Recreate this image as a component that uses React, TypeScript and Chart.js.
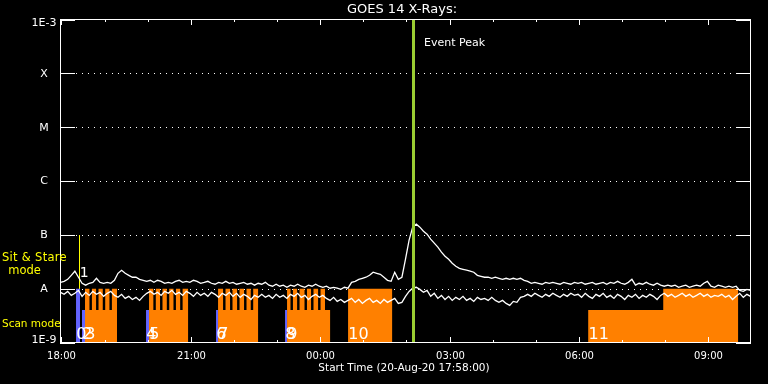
import React, { useEffect, useRef } from "react";
import { Chart, registerables } from "chart.js";

Chart.register(...registerables);

// ---------- text ----------
const TITLE = "GOES 14 X-Rays:";
const X_TITLE = "Start Time (20-Aug-20 17:58:00)";
const EVENT_LABEL = "Event Peak";
const SIT_STARE_LABEL = ["Sit & Stare", "mode"];
const SCAN_LABEL = "Scan mode";

// ---------- axes (x in minutes after 17:58) ----------
const X_RANGE = [0, 960];
const hourTickMinutes = [2, 62, 122, 182, 242, 302, 362, 422, 482, 542, 602, 662, 722, 782, 842, 902];
const majorTickLabels = ["18:00", "", "", "21:00", "", "", "00:00", "", "", "03:00", "", "", "06:00", "", "", "09:00"];
const fluxTicks = [1e-9, 1e-8, 1e-7, 1e-6, 1e-5, 1e-4, 1e-3];
const fluxTickLabels = ["1E-9", "A", "B", "C", "M", "X", "1E-3"];

// ---------- GOES light curves (nW/m^2), one sample every 5 minutes from 17:58 ----------
const SAMPLE_STEP_MIN = 5;
const longChannel = [
  13.1, 13.7, 14.9, 17.7, 21.1, 16.3, 12.6, 11.6, 12.6, 13.1,
  15.6, 13.1, 12.6, 13.1, 12.6, 14.3, 19.3, 22.0, 19.3, 17.7,
  16.3, 16.3, 14.9, 14.3, 13.7, 14.3, 13.1, 14.3, 13.7, 12.6,
  13.1, 12.6, 13.7, 14.3, 13.1, 13.7, 13.1, 14.3, 13.7, 12.6,
  13.1, 13.7, 12.6, 12.1, 13.1, 12.6, 13.7, 12.6, 13.1, 12.1,
  12.6, 13.1, 12.1, 12.6, 11.6, 12.6, 12.1, 13.1, 11.6, 11.1,
  12.1, 11.1, 11.6, 10.6, 11.6, 11.1, 12.1, 11.1, 10.6, 11.6,
  11.1, 12.1, 11.1, 10.6, 11.1, 10.2, 10.6, 10.2, 9.7, 10.6,
  10.2, 13.1, 13.7, 14.9, 15.6, 16.3, 17.7, 20.2, 19.3, 18.5,
  16.3, 14.3, 13.7, 20.2, 14.9, 16.3, 35.2, 79.6, 139, 158,
  139, 117, 103, 83.2, 70, 59, 47.6, 40.1, 35.2, 29.7,
  26.1, 23.9, 22.9, 22.0, 21.1, 20.2, 17.7, 17.0, 16.3, 16.3,
  15.6, 16.3, 15.6, 14.9, 15.6, 14.9, 15.6, 14.9, 15.6, 14.3,
  13.7, 12.6, 13.1, 12.6, 12.1, 13.1, 12.6, 13.1, 12.6, 12.1,
  13.1, 12.6, 12.1, 13.1, 12.6, 13.1, 12.1, 12.6, 13.1, 12.1,
  12.6, 13.1, 12.1, 13.1, 12.6, 13.7, 12.6, 12.1, 13.1, 14.9,
  11.6, 12.6, 12.1, 13.1, 12.1, 11.6, 12.6, 11.6, 11.1, 11.6,
  11.1, 11.6, 10.6, 11.1, 11.6, 10.6, 11.1, 11.6, 11.1, 12.6,
  13.7, 11.1, 10.6, 11.6, 11.1, 10.6, 11.1, 10.6, 11.1, 9.3,
  8.9, 9.7, 9.3,
];
const shortChannel = [
  8.55, 7.85, 8.9, 7.5, 8.2, 9.3, 7.2, 8.55, 7.5, 8.9,
  7.85, 8.55, 7.2, 8.2, 8.9, 7.5, 6.9, 7.85, 6.6, 7.2,
  6.3, 6.9, 6.06, 7.2, 8.2, 8.9, 7.85, 8.55, 7.5, 8.9,
  8.2, 9.3, 7.85, 8.55, 7.5, 8.9, 8.2, 7.2, 8.55, 7.5,
  8.2, 7.2, 8.55, 7.85, 6.9, 8.2, 7.5, 8.55, 7.2, 8.2,
  6.9, 7.85, 7.2, 6.3, 7.5, 6.9, 7.85, 6.9, 7.5, 6.6,
  7.85, 6.9, 7.5, 6.6, 7.85, 7.2, 8.2, 6.9, 7.5, 6.3,
  7.2, 7.85, 6.9, 7.5, 6.6, 6.06, 6.9, 5.8, 6.3, 5.57,
  6.06, 6.6, 5.57, 6.3, 5.33, 6.06, 6.6, 5.57, 6.06, 5.33,
  6.3, 5.57, 6.06, 6.6, 5.33, 5.57, 7.2, 8.9, 10.2, 10.6,
  9.7, 8.55, 9.3, 7.2, 8.2, 6.6, 7.5, 6.3, 7.2, 6.06,
  6.9, 6.3, 7.2, 6.06, 6.6, 5.8, 6.9, 6.3, 6.6, 6.06,
  6.9, 6.06, 5.57, 6.06, 5.33, 4.9, 5.8, 5.57, 6.9, 7.2,
  7.85, 7.2, 8.2, 7.5, 6.9, 7.85, 7.2, 8.2, 7.5, 6.9,
  7.85, 7.2, 8.2, 7.5, 7.85, 6.9, 8.2, 7.2, 6.6, 7.85,
  7.2, 8.2, 6.9, 7.5, 6.6, 7.85, 7.2, 6.3, 7.5, 6.9,
  7.85, 6.6, 7.5, 6.9, 7.85, 7.2, 6.3, 7.5, 8.2, 7.2,
  7.85, 6.9, 7.5, 8.2, 7.2, 7.85, 6.9, 7.5, 8.2, 7.2,
  7.85, 6.9, 7.5, 7.2, 7.85, 6.9, 7.5, 6.3, 7.2, 8.2,
  6.9, 7.85, 7.2,
];

// ---------- observation timeline: [start min, end min, flux height] ----------
const HIGH = 1e-8;
const LOW = 4e-9;
const FLUX_MIN = 1e-9;
const FLUX_MAX = 1e-3;
const stareSegments: [number, number, number][] = [
  [21.6, 27.1, HIGH],
  [29.9, 34.1, LOW],
  [119.0, 123.2, LOW],
  [216.4, 219.2, LOW],
  [312.4, 315.2, LOW],
];
const scanSegments: [number, number, number][] = [
  [34.1, 40.3, HIGH], [40.3, 43.7, LOW], [43.7, 49.5, HIGH], [49.5, 52.9, LOW], [52.9, 58.8, HIGH],
  [58.8, 62.2, LOW], [62.2, 68.1, HIGH], [68.1, 71.5, LOW], [71.5, 78.6, HIGH],
  [123.2, 129.2, HIGH], [129.2, 132.6, LOW], [132.6, 138.5, HIGH], [138.5, 141.9, LOW], [141.9, 147.9, HIGH],
  [147.9, 151.3, LOW], [151.3, 157.2, HIGH], [157.2, 160.6, LOW], [160.6, 166.5, HIGH], [166.5, 169.9, LOW],
  [169.9, 177.5, HIGH],
  [219.2, 226.2, HIGH], [226.2, 229.6, LOW], [229.6, 235.9, HIGH], [235.9, 239.3, LOW], [239.3, 245.7, HIGH],
  [245.7, 249.1, LOW], [249.1, 255.4, HIGH], [255.4, 258.8, LOW], [258.8, 264.7, HIGH], [264.7, 268.1, LOW],
  [268.1, 274.9, HIGH],
  [315.2, 320.0, HIGH], [320.0, 323.4, LOW], [323.4, 329.2, HIGH], [329.2, 332.6, LOW], [332.6, 339.5, HIGH],
  [339.5, 342.9, LOW], [342.9, 348.6, HIGH], [348.6, 352.0, LOW], [352.0, 358.4, HIGH], [358.4, 361.8, LOW],
  [361.8, 368.0, HIGH], [368.0, 375.1, LOW],
  [400.1, 461.4, HIGH],
  [734.2, 838.6, LOW], [838.6, 943.0, HIGH],
];
const obsLabels: [string, number][] = [
  ["0", 21.6], ["2", 29.9], ["3", 34.1], ["4", 119.0], ["5", 123.2], ["6", 216.4],
  ["7", 219.2], ["8", 312.4], ["9", 315.2], ["10", 400.1], ["11", 734.2],
];
const SIT_STARE_MIN = 26.2;
const SIT_STARE_TOP = 1e-7;
const SIT_STARE_NUM = "1";
const EVENT_PEAK_MIN = 492;

const COLORS = {
  bg: "#000000",
  fg: "#ffffff",
  yellow: "#ffff00",
  scan: "#ff8000",
  stare: "#6464ff",
  peak: "#9acd32",
};
const FONT = "'DejaVu Sans', 'Liberation Sans', sans-serif";

function skyline(segs: [number, number, number][]) {
  const pts: { x: number; y: number }[] = [];
  let prevEnd: number | null = null;
  for (const [s, e, v] of segs) {
    if (prevEnd === null || Math.abs(s - prevEnd) > 1e-6) {
      if (prevEnd !== null) pts.push({ x: prevEnd, y: FLUX_MIN });
      pts.push({ x: s, y: FLUX_MIN });
    }
    pts.push({ x: s, y: v }, { x: e, y: v });
    prevEnd = e;
  }
  if (prevEnd !== null) pts.push({ x: prevEnd, y: FLUX_MIN });
  return pts;
}

const crisp = (v: number) => Math.floor(v) + 0.5;

const framePlugin = {
  id: "goesFrame",
  beforeDraw(chart: any) {
    const ctx = chart.ctx;
    ctx.save();
    ctx.fillStyle = COLORS.bg;
    ctx.fillRect(0, 0, chart.width, chart.height);
    ctx.restore();
  },
  beforeDatasetsDraw(chart: any) {
    const { ctx, chartArea: a, scales } = chart;
    const xs = scales.x, ys = scales.y;
    ctx.save();
    ctx.strokeStyle = COLORS.fg;
    ctx.lineWidth = 1;
    ctx.setLineDash([1, 5]);
    for (let k = 1; k < fluxTicks.length - 1; k++) {
      const py = Math.round(ys.getPixelForValue(fluxTicks[k])) + 0.5;
      ctx.beginPath();
      ctx.moveTo(Math.floor(a.left) + 16, py);
      ctx.lineTo(Math.floor(a.right) - 15, py);
      ctx.stroke();
    }
    ctx.setLineDash([]);
    const yx = crisp(xs.getPixelForValue(SIT_STARE_MIN));
    ctx.strokeStyle = COLORS.yellow;
    ctx.beginPath();
    ctx.moveTo(yx, Math.round(ys.getPixelForValue(SIT_STARE_TOP)));
    ctx.lineTo(yx, a.bottom);
    ctx.stroke();
    ctx.restore();
  },
  afterDatasetsDraw(chart: any) {
    const { ctx, chartArea: a, scales } = chart;
    const xs = scales.x, ys = scales.y;
    ctx.save();
    // event peak line
    const gx = Math.round(xs.getPixelForValue(EVENT_PEAK_MIN)) - 0.5;
    ctx.strokeStyle = COLORS.peak;
    ctx.lineWidth = 3;
    ctx.beginPath();
    ctx.moveTo(gx, a.top);
    ctx.lineTo(gx, a.bottom);
    ctx.stroke();

    // frame
    ctx.strokeStyle = COLORS.fg;
    ctx.lineWidth = 1;
    ctx.strokeRect(a.left, a.top, a.right - a.left, a.bottom - a.top);

    // y ticks (inward, both sides)
    for (let k = 0; k < fluxTicks.length; k++) {
      const py = Math.round(ys.getPixelForValue(fluxTicks[k])) + 0.5;
      ctx.beginPath();
      ctx.moveTo(Math.floor(a.left), py);
      ctx.lineTo(Math.floor(a.left) + 15, py);
      ctx.moveTo(Math.floor(a.right) - 14, py);
      ctx.lineTo(Math.floor(a.right) + 1, py);
      ctx.stroke();
    }
    // x ticks (inward, top & bottom)
    hourTickMinutes.forEach((m, i) => {
      const px = crisp(xs.getPixelForValue(m));
      const len = majorTickLabels[i] ? 6 : 3;
      ctx.beginPath();
      ctx.moveTo(px, Math.floor(a.top));
      ctx.lineTo(px, Math.floor(a.top) + len);
      ctx.moveTo(px, Math.ceil(a.bottom));
      ctx.lineTo(px, Math.ceil(a.bottom) - len);
      ctx.stroke();
    });

    // labels
    ctx.fillStyle = COLORS.fg;
    ctx.textBaseline = "middle";
    ctx.textAlign = "center";
    ctx.font = `10px ${FONT}`;
    hourTickMinutes.forEach((m, i) => {
      if (!majorTickLabels[i]) return;
      ctx.fillText(majorTickLabels[i], crisp(xs.getPixelForValue(m)), 356);
    });
    ctx.font = `11px ${FONT}`;
    fluxTickLabels.forEach((t, k) => {
      let py = ys.getPixelForValue(fluxTicks[k]) + 0.5;
      if (k === fluxTicks.length - 1) py += 3.5;
      if (k === 0) py -= 3;
      ctx.fillText(t, 44, py);
    });
    ctx.font = `13px ${FONT}`;
    ctx.fillText(TITLE, 402, 10);
    ctx.font = `10.5px ${FONT}`;
    ctx.fillText(X_TITLE, 404, 368);

    ctx.textAlign = "left";
    ctx.font = `11px ${FONT}`;
    ctx.fillText(EVENT_LABEL, 424, 43);

    // yellow mode labels
    ctx.fillStyle = COLORS.yellow;
    ctx.font = `11.5px ${FONT}`;
    (ctx as any).letterSpacing = "0.3px";
    ctx.fillText(SIT_STARE_LABEL[0], 2, 258);
    (ctx as any).letterSpacing = "0px";
    ctx.textAlign = "center";
    ctx.fillText(SIT_STARE_LABEL[1], 24.5, 271);
    ctx.textAlign = "left";
    ctx.font = `10.5px ${FONT}`;
    ctx.fillText(SCAN_LABEL, 2, 324);

    // observation numbers
    ctx.fillStyle = COLORS.fg;
    ctx.textBaseline = "alphabetic";
    ctx.font = `16px ${FONT}`;
    obsLabels.forEach(([t, m]) => {
      ctx.fillText(t, xs.getPixelForValue(m) + 0.3, 339);
    });
    ctx.font = `14px ${FONT}`;
    ctx.fillText(SIT_STARE_NUM, xs.getPixelForValue(SIT_STARE_MIN) + 0.3, 277);
    ctx.restore();
  },
};

export default function App() {
  const ref = useRef<HTMLCanvasElement>(null);
  useEffect(() => {
    document.body.style.margin = "0";
    document.body.style.background = COLORS.bg;
    const canvas = ref.current;
    if (!canvas) return;
    const toPoints = (arr: number[]) =>
      arr.map((v, i) => ({ x: i * SAMPLE_STEP_MIN, y: v * 1e-9 }));
    const chart = new Chart(canvas, {
      type: "line",
      data: {
        datasets: [
          {
            label: "1.0-8.0 A",
            data: toPoints(longChannel),
            borderColor: COLORS.fg,
            borderWidth: 1.3,
            pointRadius: 0,
            fill: false,
            tension: 0,
          },
          {
            label: "0.5-4.0 A",
            data: toPoints(shortChannel),
            borderColor: COLORS.fg,
            borderWidth: 1.3,
            pointRadius: 0,
            fill: false,
            tension: 0,
          },
          {
            label: "Scan",
            data: skyline(scanSegments),
            borderColor: "rgba(0,0,0,0)",
            borderWidth: 0,
            backgroundColor: COLORS.scan,
            pointRadius: 0,
            fill: "start",
            tension: 0,
          },
          {
            label: "Sit & Stare",
            data: skyline(stareSegments),
            borderColor: "rgba(0,0,0,0)",
            borderWidth: 0,
            backgroundColor: COLORS.stare,
            pointRadius: 0,
            fill: "start",
            tension: 0,
          },
        ],
      },
      options: {
        animation: false,
        responsive: false,
        maintainAspectRatio: false,
        devicePixelRatio: 1,
        events: [],
        layout: { padding: { left: 60.5, right: 17.5, top: 19.5, bottom: 41.5 } },
        scales: {
          x: { type: "linear", min: X_RANGE[0], max: X_RANGE[1], display: false },
          y: { type: "logarithmic", min: FLUX_MIN, max: FLUX_MAX, display: false },
        },
        plugins: {
          legend: { display: false },
          tooltip: { enabled: false },
          title: { display: false },
        },
      },
      plugins: [framePlugin],
    } as any);
    return () => chart.destroy();
  }, []);
  return (
    <div style={{ width: 768, height: 384, background: COLORS.bg }}>
      <canvas ref={ref} width={768} height={384} style={{ display: "block", width: 768, height: 384 }} />
    </div>
  );
}
